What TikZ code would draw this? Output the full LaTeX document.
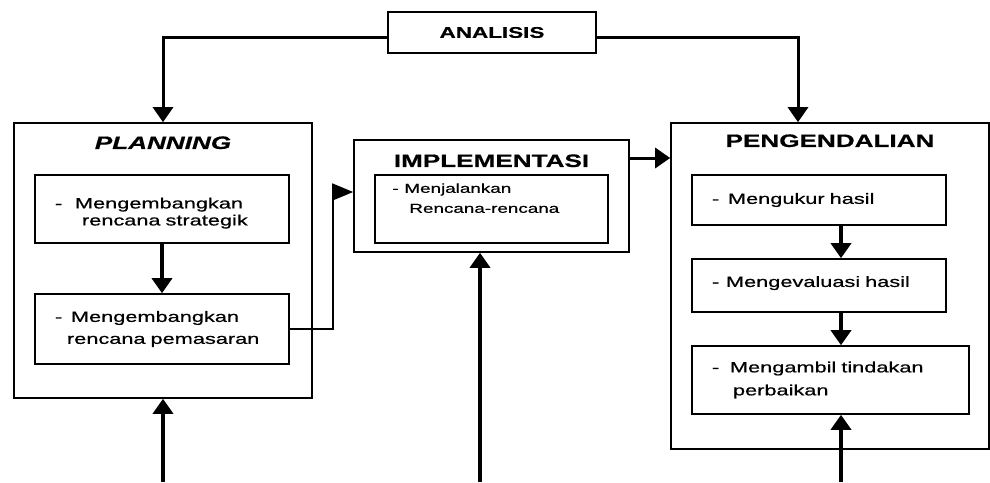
\documentclass[tikz,border=0pt]{standalone}
\usepackage{fontspec}
\setmainfont{Liberation Sans}[FakeStretch=1.45,FakeBold=0.6]
\usetikzlibrary{arrows.meta,positioning}

\newcommand{\itemdash}[1]{\makebox[#1][l]{-}}

\tikzset{
  box/.style={draw,line width=1.6pt,rectangle,inner sep=0pt},
  item/.style={box,align=left,inner xsep=20pt,font=\fontsize{15}{17}\selectfont},
  title/.style={inner sep=0pt,font=\bfseries\fontsize{18}{20}\selectfont},
  arr/.style={line width=3.5pt,-{Triangle[width=20pt,length=15pt]}},
  toparr/.style={line width=3pt,-{Triangle[width=20pt,length=15pt]}},
  thinarr/.style={line width=1.6pt,-{Triangle[width=17pt,length=21pt]}}
}

\begin{document}
\begin{tikzpicture}[x=1pt,y=-1pt]
  \useasboundingbox (0,0) rectangle (990,482);

  % analisis
  \node[box,font=\bfseries\fontsize{15.5}{17}\selectfont,minimum width=208pt,minimum height=41pt] (ana) at (492,32.5) {ANALISIS};

  % planning
  \node[box,minimum width=298pt,minimum height=275pt] (plan) at (163,260.5) {};
  \node[title,font=\bfseries\itshape\fontsize{18}{20}\selectfont,below=14pt of plan.north] (plantitle) {PLANNING};
  \node[item,text width=214pt,minimum height=68pt] (k1) at (162,209) {\rule{0pt}{19pt}\itemdash{20pt}Mengembangkan\\\hspace*{27pt}rencana strategik};
  \node[item,text width=214pt,minimum height=70pt,font=\fontsize{15}{22}\selectfont] (k2) at (162,329) {\itemdash{16pt}Mengembangkan\\\hspace*{12pt}rencana pemasaran};

  % implementasi
  \node[box,minimum width=275pt,minimum height=112pt] (impl) at (491.5,196) {};
  \node[title,below=15pt of impl.north] (impltitle) {IMPLEMENTASI};
  \node[box,minimum width=233pt,minimum height=68pt] (run) at (491.5,209) {};
  \node[anchor=north west,inner sep=0pt,align=left,font=\fontsize{13}{20}\selectfont] (runtext) at ([xshift=18pt,yshift=-9pt]run.north west) {\itemdash{12pt}Menjalankan\\\hspace*{17pt}Rencana-rencana};

  % pengendalian
  \node[box,minimum width=318pt,minimum height=326pt] (ctl) at (830,286) {};
  \node[title,below=12pt of ctl.north] (ctltitle) {PENGENDALIAN};
  \node[item,text width=214pt,minimum height=50pt] (p1) at (819,200) {\itemdash{16pt}Mengukur hasil};
  \node[item,text width=214pt,minimum height=53pt] (p2) at (819,285.5) {\itemdash{14pt}Mengevaluasi hasil\rule[-8pt]{0pt}{0pt}};
  \node[item,text width=237pt,minimum height=68pt,font=\fontsize{15}{23}\selectfont] (p3) at (830.5,380) {\itemdash{18pt}Mengambil tindakan\\\hspace*{21pt}perbaikan};

  \coordinate (b1) at (163,482);
  \coordinate (b2) at (480,482);
  \coordinate (b3) at (841,482);
  \coordinate (c1) at (798,37);
  \coordinate (i1) at ([yshift=38pt]impl.east);

  % connectors
  \draw[toparr] ([yshift=-4.5pt]ana.west) -| (plan.north);
  \draw[toparr] ([yshift=-4.5pt]ana.east) -| (c1 |- ctl.north);
  \draw[arr] (k1.south) -- (k2.north);
  \draw[thinarr] (k2.east) -- ++(43,0) |- ([yshift=4pt]impl.west);
  \draw[toparr] (i1) -- (i1 -| ctl.west);
  \draw[arr] (p1.south -| b3) -- (p2.north -| b3);
  \draw[arr] (p2.south -| b3) -- (p3.north -| b3);
  \draw[arr] (b1) -- (b1 |- plan.south);
  \draw[arr] (b2) -- (b2 |- impl.south);
  \draw[arr] (b3) -- (b3 |- p3.south);
\end{tikzpicture}
\end{document}
